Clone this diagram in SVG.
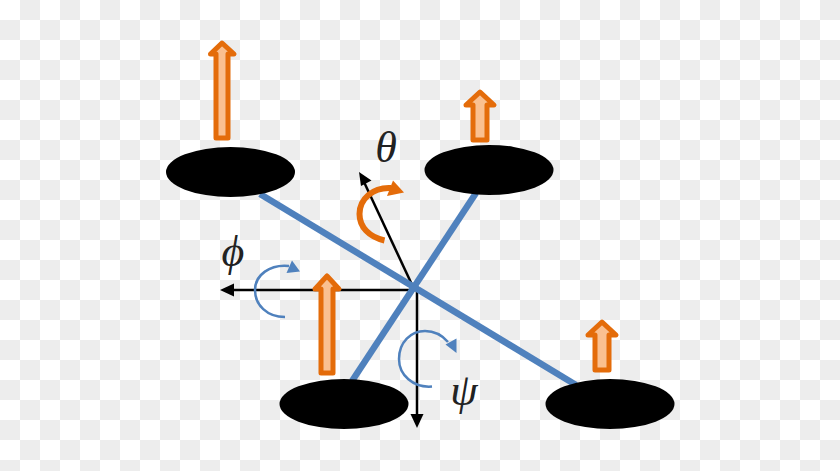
<svg xmlns="http://www.w3.org/2000/svg" width="840" height="471" viewBox="0 0 840 471">
<style>
.rotor{fill:#000}
.arm{stroke:#4f81bd;stroke-width:6.500;fill:none}
.axis{stroke:#000;stroke-width:2.500;fill:none}
.head{fill:#000}
.thrust{fill:#fac090;stroke:#e46c0a;stroke-width:5;stroke-linejoin:round}
.roll{fill:none;stroke:#4f81bd;stroke-width:2.500}
.rollhead{fill:#4f81bd}
.pitch{fill:none;stroke:#e46c0a;stroke-width:6}
.pitchhead{fill:#e46c0a}
.sym{font-family:"Liberation Serif",serif;font-style:italic;fill:#222}
</style>
<defs>
<pattern id="checker" width="40" height="40" patternUnits="userSpaceOnUse">
<rect width="40" height="40" fill="#fff"/>
<rect x="20" y="0" width="20" height="20" fill="#ededed"/>
<rect x="0" y="20" width="20" height="20" fill="#ededed"/>
</pattern>
</defs>
<rect width="840" height="471" fill="url(#checker)"/>
<g id="connectors">
<line class="axis" x1="414" y1="289" x2="364" y2="182"/>
<polygon class="head" points="359,172 371.500,180.500 361,186"/>
<line class="axis" x1="415" y1="290" x2="230" y2="290"/>
<polygon class="head" points="220,290 234,283.500 234,296.500"/>
<line class="axis" x1="417" y1="288" x2="417" y2="416"/>
<polygon class="head" points="417,428 410.500,414 423.500,414"/>
<line class="arm" x1="260" y1="194" x2="576" y2="385"/>
<line class="arm" x1="476" y1="193" x2="352" y2="381"/>
</g>
<g id="rotor-1"><ellipse class="rotor" cx="230.500" cy="172" rx="64.500" ry="25"/></g>
<g id="rotor-2"><ellipse class="rotor" cx="489" cy="170" rx="64.500" ry="25"/></g>
<g id="rotor-3"><ellipse class="rotor" cx="344" cy="404" rx="64.500" ry="25"/></g>
<g id="rotor-4"><ellipse class="rotor" cx="610" cy="404" rx="64.500" ry="25"/></g>
<g id="thrust-1"><polygon class="thrust" points="222,43 234,54 228,54 228,138 216,138 216,54 210.500,54"/></g>
<g id="thrust-2"><polygon class="thrust" points="480,92 494,105 487,105 487,140 473,140 473,105 466,105"/></g>
<g id="thrust-3"><polygon class="thrust" points="327,276 339,289 333,289 333,373 321,373 321,289 315,289"/></g>
<g id="thrust-4"><polygon class="thrust" points="602,322 616,335 609,335 609,370 595,370 595,335 588,335"/></g>
<g id="pitch-theta">
<path class="pitch" d="M384.500,240.500 C369,237 359.500,227 359.500,214 C359.500,199 373,187 391,188"/>
<polygon class="pitchhead" points="404,192.500 393,180.500 387,196"/>
<text class="sym" x="386" y="162" font-size="44" text-anchor="middle">θ</text>
</g>
<g id="roll-phi">
<path class="roll" d="M285,317 C267,317 255,305 255,290 C255,275 270,264 289,266"/>
<polygon class="rollhead" points="300,271.500 292,260.500 286.500,273"/>
<text class="sym" x="233" y="266" font-size="44" text-anchor="middle">ϕ</text>
</g>
<g id="yaw-psi">
<path class="roll" d="M432,386.500 C413,388 399,375 399,359 C399,342 411,331 425,331 C435,331 442,335 448,342"/>
<polygon class="rollhead" points="456.500,353 456.500,338.500 445.500,344.500"/>
<text class="sym" x="464" y="405" font-size="44" text-anchor="middle">ψ</text>
</g>
</svg>
